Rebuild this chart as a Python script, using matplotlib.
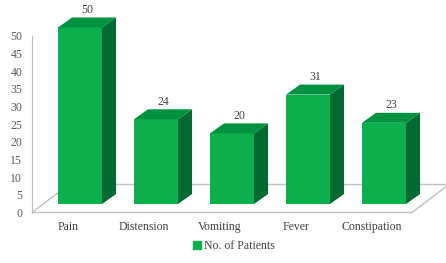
import matplotlib.pyplot as plt
from matplotlib.patches import Polygon, Patch

# donnees
categories = ['Pain', 'Distension', 'Vomiting', 'Fever', 'Constipation']
patients = [50, 24, 20, 31, 23]
y_ticks = list(range(0, 55, 5))

plt.rcParams['font.family'] = ['Liberation Serif', 'DejaVu Serif']

W, H = 446, 263
fig = plt.figure(figsize=(W / 100, H / 100), dpi=100)
ax = fig.add_axes([32 / W, 50.5 / H, 380 / W, 176.5 / H])
ax.set_xlim(-0.474, 4.526)
ax.set_ylim(0, 50)

# pixels -> unites de donnees
px_x = 76.0
px_y = 176.5 / 50


def off(dx, dy):
    return dx / px_x, dy / px_y


front = off(12, 8.5)      # decalage de la face avant des barres
depth = off(14, 10)       # profondeur des barres
floor = off(37, 28)       # profondeur du sol
bw = 44 / px_x

c_front = '#0BB04C'
c_side = '#006A30'
c_top = '#00923F'
c_grid = '#BFBFBF'

# sol
x0, x1 = ax.get_xlim()
ax.add_patch(Polygon([(x0, 0), (x1, 0), (x1 + floor[0], floor[1]), (x0 + floor[0], floor[1])],
                     closed=True, facecolor='white', edgecolor=c_grid, lw=1, clip_on=False, zorder=1))

for i, v in enumerate(patients):
    l = i + front[0] - bw / 2
    r = i + front[0] + bw / 2
    b = front[1]
    t = front[1] + v
    dx, dy = depth
    ax.add_patch(Polygon([(l, b), (r, b), (r, t), (l, t)], closed=True,
                         facecolor=c_front, lw=0, clip_on=False, zorder=3))
    ax.add_patch(Polygon([(r, b), (r + dx, b + dy), (r + dx, t + dy), (r, t)], closed=True,
                         facecolor=c_side, lw=0, clip_on=False, zorder=3))
    ax.add_patch(Polygon([(l, t), (r, t), (r + dx, t + dy), (l + dx, t + dy)], closed=True,
                         facecolor=c_top, lw=0, clip_on=False, zorder=3))
    ax.annotate(str(v), (i + front[0] + dx / 2, t + dy), xytext=(0, 1),
                textcoords='offset points', ha='center', va='bottom',
                fontsize=8.5, color='#404040', annotation_clip=False)

ax.set_yticks(y_ticks)
ax.set_xticks(range(len(categories)))
ax.set_xticklabels(categories)
ax.tick_params(axis='y', length=0, pad=7, labelsize=8.5, labelcolor='#595959')
ax.tick_params(axis='x', length=0, pad=6, labelsize=8.5, labelcolor='#404040')
for s in ['top', 'right', 'bottom']:
    ax.spines[s].set_visible(False)
ax.spines['left'].set_color(c_grid)
ax.patch.set_alpha(0)

fig.legend(handles=[Patch(color=c_front, label='No. of Patients')], loc='lower center',
           bbox_to_anchor=(0.525, 0.0), frameon=False, fontsize=8.5,
           handlelength=0.6, handleheight=0.6, handletextpad=0.3, labelcolor='#404040')

fig.savefig('out.png', dpi=100)
